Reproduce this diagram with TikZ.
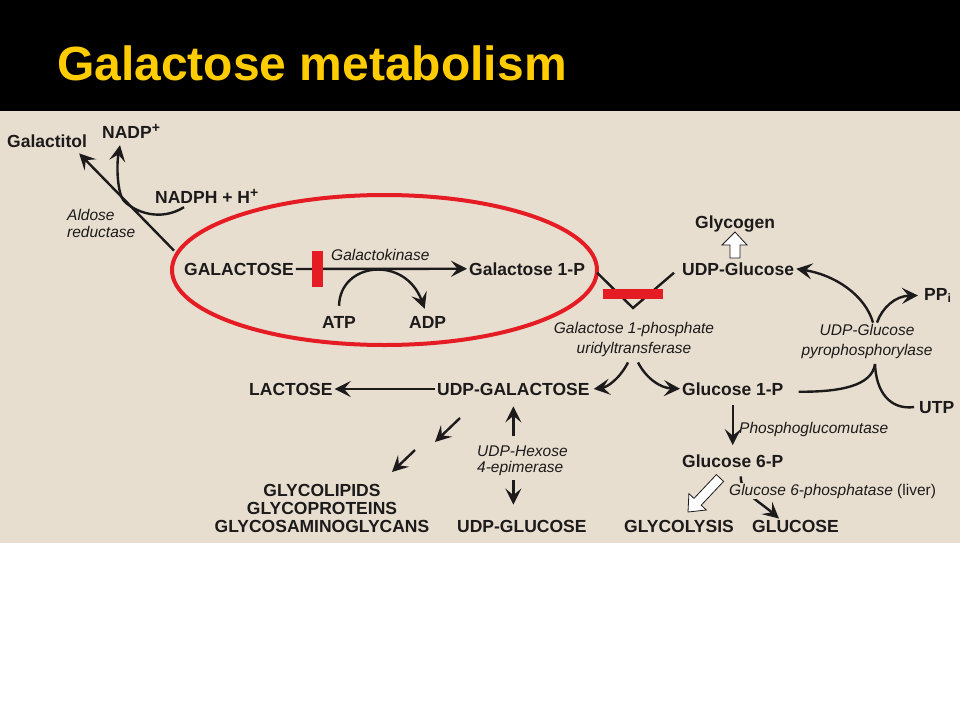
\documentclass[tikz,border=0pt]{standalone}
\usepackage{fontspec}
\setmainfont{Liberation Sans}
\usetikzlibrary{arrows.meta}
\definecolor{paper}{RGB}{231,222,208}
\definecolor{ink}{RGB}{28,26,26}
\definecolor{gold}{RGB}{255,204,0}
\definecolor{blockred}{RGB}{230,28,36}
\newcommand{\supplus}{\raisebox{6pt}{\fontsize{14}{14}\selectfont+}}

\begin{document}
\begin{tikzpicture}[x=1pt,y=-1pt,
  met/.style={text=ink,inner sep=2pt,font=\fontsize{17.5}{18}\selectfont\bfseries},
  enz/.style={text=ink,inner sep=1pt,font=\fontsize{15.5}{20}\selectfont\itshape},
  arr/.style={draw=ink,line width=2.4pt,-{Stealth[length=16pt,width=16pt,inset=6.5pt]}},
  link/.style={draw=ink,line width=2.4pt}]
\useasboundingbox (0,0) rectangle (960,720);
\fill[white] (0,0) rectangle (960,720);
\fill[black] (0,0) rectangle (960,111);
\fill[paper] (0,111) rectangle (960,543);
\node[anchor=base west,text=gold,inner sep=0pt,font=\fontsize{48}{48}\selectfont\bfseries] (title) at (57,80) {Galactose metabolism};

% metabolites
\node[met,anchor=base west] (galactitol) at (5,147) {Galactitol};
\node[met,anchor=base west] (nadp) at (100,138) {NADP\supplus};
\node[met,anchor=base west] (nadph) at (153,203) {NADPH + H\supplus};
\node[met,anchor=base west] (galactose) at (182,275) {GALACTOSE};
\node[met,anchor=base west] (gal1p) at (467,275) {Galactose 1-P};
\node[met,anchor=base west] (atp) at (320,328) {ATP};
\node[met,anchor=base west] (adp) at (407,328) {ADP};
\node[met,anchor=base west] (glycogen) at (693,228) {Glycogen};
\node[met,anchor=base west] (udpglc) at (680,275) {UDP-Glucose};
\node[met,anchor=base west] (ppi) at (922,300) {PP\textsubscript{i}};
\node[met,anchor=base west] (utp) at (917,413) {UTP};
\node[met,anchor=base west] (lactose) at (247,395) {LACTOSE};
\node[met,anchor=base west] (udpgal) at (435,395) {UDP-GALACTOSE};
\node[met,anchor=base west] (glc1p) at (680,395) {Glucose 1-P};
\node[met,anchor=base west] (glc6p) at (680,467) {Glucose 6-P};
\node[met,align=center] (glyco) at (322,508) {GLYCOLIPIDS\\GLYCOPROTEINS\\GLYCOSAMINOGLYCANS};
\node[met,anchor=base west] (udpglc2) at (455,532) {UDP-GLUCOSE};
\node[met,anchor=base west] (glycolysis) at (622,532) {GLYCOLYSIS};
\node[met,anchor=base west] (glucose) at (750,532) {GLUCOSE};

% enzymes
\node[enz,align=left,anchor=west,font=\fontsize{15.5}{17}\selectfont\itshape] (aldose) at (66,223) {Aldose\\reductase};
\node[enz,anchor=base west] (galk) at (330,260) {Galactokinase};
\node[enz,align=center] (galt) at (634,339) {Galactose 1-phosphate\\uridyltransferase};
\node[enz,align=center] (pyro) at (867,341) {UDP-Glucose\\pyrophosphorylase};
\node[enz,anchor=base west] (pgm) at (738,433) {Phosphoglucomutase};
\node[enz,align=left,anchor=west,font=\fontsize{15.5}{16}\selectfont\itshape] (epim) at (476,461) {UDP-Hexose\\4-epimerase};

% galactitol branch
\draw[arr] ([shift={(-8,-10)}]galactose.north west) -- ([shift={(-10,4)}]galactitol.south east);
\draw[arr] ([shift={(31,2)}]nadph.south west) .. controls (160,222) and (135,212) .. (124,201)
  .. controls (118,195) and (116,168) .. ([shift={(20,5)}]nadp.south west);

% galactokinase
\draw[arr] (galactose.east) -- (gal1p.west);
\draw[arr] ([yshift=8pt]atp.north) .. controls (340,262) and (405,255) .. ([shift={(-3,-5)}]adp.north);
\fill[blockred] (312,251) rectangle (323,287);
\draw[blockred,line width=4pt] (384.5,270) ellipse [x radius=212.5, y radius=75];

% uridyltransferase
\coordinate (vtip) at (633,308);
\draw[link] ([shift={(10,4)}]gal1p.east) -- (vtip) -- ([shift={(-6,4)}]udpglc.west);
\fill[blockred] (603,289) rectangle (663,299);
\draw[arr] ([shift={(-6,5)}]galt.south) .. controls (620,378) and (608,387) .. ([xshift=2pt]udpgal.east);
\draw[arr] ([shift={(4,5)}]galt.south) .. controls (646,378) and (660,388) .. (glc1p.west);
\draw[arr] (udpgal.west) -- (lactose.east);

% glycogen
\draw[ink,fill=white,line width=0.8pt] (730,258) -- (730,245) -- (722,245) -- (735,232) -- (747,245) -- (740,245) -- (740,258) -- cycle;

% pyrophosphorylase
\coordinate (pj) at (875,364);
\draw[link] ([shift={(13,3)}]glc1p.east) .. controls (840,392) and (872,386) .. (pj);
\draw[link] (pj) .. controls (876,392) and (890,410) .. ([xshift=-3pt]utp.west);
\draw[arr] ([xshift=6pt]pyro.north) .. controls (865,295) and (835,275) .. (udpglc.east);
\draw[arr] ([xshift=10pt]pyro.north) .. controls (882,308) and (895,296) .. ([xshift=-4pt]ppi.west);

% epimerase
\draw[arr,shorten <=9pt,shorten >=9pt] (epim.north -| udpgal) -- (udpgal.south);
\draw[arr,shorten <=3pt,shorten >=13pt] (epim.south -| udpgal) -- (udpglc2.north -| udpgal);

% glycolipids
\coordinate (d1) at (460,418);
\coordinate (d2) at (435,442);
\coordinate (d3) at (415,450);
\coordinate (d4) at (392,472);
\draw[arr] (d1) -- (d2);
\draw[arr] (d3) -- (d4);

% glucose 6-P
\draw[arr,shorten <=8pt,shorten >=7pt] (glc1p.south) -- (glc6p.north);
\draw[arr] ([shift={(8,7)}]glc6p.south) .. controls (740,492) and (760,502) .. ([shift={(29,1)}]glucose.north west);
\node[enz,anchor=base west,fill=paper] (g6pase) at (728,495) {Glucose 6-phosphatase \upshape(liver)};
\draw[ink,fill=white,line width=0.8pt] (716.4,474.6) -- (694,498.4) -- (688.9,493.6) -- (688,512) -- (706.3,510) -- (701.2,505.2) -- (723.6,481.4) -- cycle;
\end{tikzpicture}
\end{document}
